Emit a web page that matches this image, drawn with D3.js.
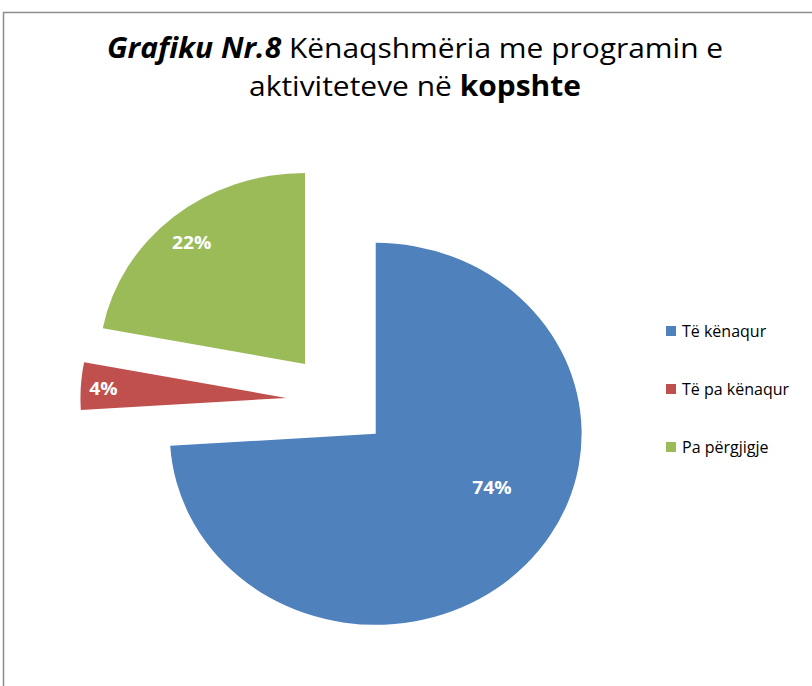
<!DOCTYPE html>
<meta charset="utf-8">
<script src="https://d3js.org/d3.v7.min.js"></script>
<style>
  body { margin: 0; background: #fff; }
  text { font-family: "Open Sans", "DejaVu Sans", sans-serif; }
</style>
<div id="chart"></div>
<script>
    // data
    const categories = ["Të kënaqur", "Të pa kënaqur", "Pa përgjigje"];
    const values = [74, 4, 22];
    const labels = ["74%", "4%", "22%"];
    const colors = ["#4f81bd", "#c0504d", "#9bbb59"];

    var width = 812, height = 686;
    var cx = 338, cy = 401;
    var radius = 191, stretchX = 1.078;   // the original pie is a bit wider than tall
    var explode = 48;
    // where excel put the value labels (radius fraction, angle shift in degrees)
    var labelPos = [{r: 0.63, da: -16.7}, {r: 0.89, da: -0.6}, {r: 0.84, da: -1.3}];

    var svg = d3.select("#chart")
        .append("svg")
            .attr("width", width)
            .attr("height", height);

    // chart area border
    svg.append("path")
        .attr("d", "M3.5," + height + "V12.5H" + width)
        .attr("fill", "none")
        .attr("stroke", "#8c8c8c")
        .attr("stroke-width", 1.5);

    // title
    var title = svg.append("text")
        .attr("transform", "translate(415,0) scale(1.07,1)")
        .attr("text-anchor", "middle")
        .attr("font-size", 28)
        .attr("fill", "#000");
    var l1 = title.append("tspan").attr("x", 0).attr("y", 58);
    l1.append("tspan").attr("font-weight", "bold").attr("font-style", "italic").text("Grafiku Nr.8");
    l1.append("tspan").text(" Kënaqshmëria me programin e");
    var l2 = title.append("tspan").attr("x", 0).attr("y", 96);
    l2.append("tspan").text("aktiviteteve në ");
    l2.append("tspan").attr("font-weight", "bold").text("kopshte");

    var pie = d3.pie().sort(null).value(function(d) { return d; });
    var arcs = pie(values);
    var arc = d3.arc().innerRadius(0).outerRadius(radius);

    var g = svg.append("g").attr("transform", "translate(" + cx + "," + cy + ")");

    var slice = g.selectAll("g.slice")
        .data(arcs)
        .enter().append("g")
        .attr("class", "slice")
        .attr("transform", function(d) {
            var a = (d.startAngle + d.endAngle) / 2;
            return "translate(" + (Math.sin(a) * explode * stretchX) + "," + (-Math.cos(a) * explode) + ")";
        });

    slice.append("path")
        .attr("transform", "scale(" + stretchX + ",1)")
        .attr("d", arc)
        .attr("fill", function(d, i) { return colors[i]; });

    slice.append("text")
        .attr("transform", function(d, i) {
            var a = (d.startAngle + d.endAngle) / 2 + labelPos[i].da * Math.PI / 180;
            var x = Math.sin(a) * radius * labelPos[i].r * stretchX,
                y = -Math.cos(a) * radius * labelPos[i].r;
            return "translate(" + x + "," + y + ") scale(1.07,1)";
        })
        .attr("dy", "0.35em")
        .attr("text-anchor", "middle")
        .attr("font-size", 18)
        .attr("font-weight", "bold")
        .attr("fill", "#fff")
        .text(function(d, i) { return labels[i]; });

    // legend
    var y = d3.scalePoint().domain(categories).range([331, 447]);
    var legend = svg.append("g")
        .selectAll("g")
        .data(categories)
        .enter().append("g")
        .attr("transform", function(d) { return "translate(666," + y(d) + ")"; });
    legend.append("rect")
        .attr("x", 0).attr("y", -5)
        .attr("width", 10).attr("height", 10)
        .attr("fill", function(d, i) { return colors[i]; });
    legend.append("text")
        .attr("x", 16)
        .attr("dy", "0.35em")
        .attr("font-size", 16)
        .attr("fill", "#000")
        .text(function(d) { return d; });
</script>
